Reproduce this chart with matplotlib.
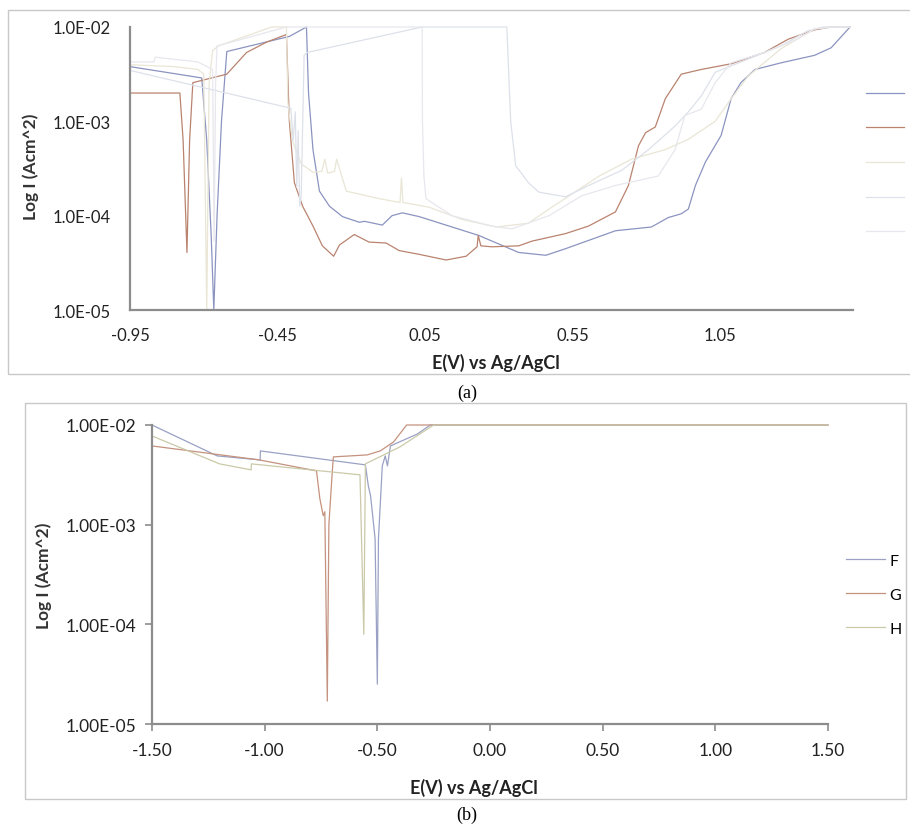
import matplotlib
matplotlib.use("Agg")
import matplotlib.pyplot as plt
import numpy as np
from matplotlib.patches import Rectangle
from matplotlib.ticker import FixedLocator, FuncFormatter, NullLocator

plt.rcParams['font.family'] = ['Lato', 'DejaVu Sans']

# ---- panel (a): potentials (V) and log10 of current density ----
a_E = [-0.95, -0.707, -0.69, -0.675, -0.666, -0.655, -0.64, -0.622, -0.41, -0.352, -0.345,
       -0.33, -0.308, -0.274, -0.23, -0.173, -0.155, -0.095, -0.062, -0.027, 0.03, 0.232,
       0.367, 0.459, 0.526, 0.695, 0.817, 0.874, 0.918, 0.942, 0.966, 1.0, 1.053, 1.087,
       1.12, 1.168, 1.256, 1.37, 1.426, 1.49]
a_log = [-2.42, -2.54, -3.2, -4.2, -5.0, -4.0, -3.0, -2.26, -2.1, -2.0, -2.7,
         -3.3, -3.74, -3.9, -4.01, -4.07, -4.06, -4.1, -4.0, -3.97, -4.01, -4.21,
         -4.39, -4.42, -4.35, -4.16, -4.12, -4.02, -3.98, -3.93, -3.68, -3.43, -3.15, -2.76,
         -2.59, -2.45, -2.38, -2.3, -2.22, -2.0]

b_E = [-0.95, -0.781, -0.77, -0.757, -0.748, -0.737, -0.622, -0.555, -0.487, -0.42, -0.41,
       -0.393, -0.365, -0.33, -0.298, -0.26, -0.24, -0.19, -0.14, -0.082, -0.038, 0.03,
       0.121, 0.189, 0.226, 0.23, 0.239, 0.276, 0.367, 0.412, 0.526, 0.604, 0.695, 0.739,
       0.773, 0.797, 0.83, 0.864, 0.918, 0.986, 1.087, 1.2, 1.28, 1.37, 1.426, 1.49]
b_log = [-2.70, -2.70, -3.2, -4.39, -3.2, -2.59, -2.50, -2.27, -2.16, -2.08, -3.0,
         -3.65, -3.9, -4.11, -4.32, -4.43, -4.31, -4.2, -4.28, -4.29, -4.37, -4.41,
         -4.47, -4.43, -4.33, -4.21, -4.32, -4.33, -4.32, -4.27, -4.19, -4.11, -3.96, -3.68,
         -3.26, -3.12, -3.06, -2.76, -2.5, -2.45, -2.39, -2.27, -2.13, -2.03, -2.0, -2.0]

c_E = [-0.95, -0.80, -0.72, -0.70, -0.69, -0.682, -0.67, -0.65, -0.47, -0.42, -0.415,
       -0.40, -0.37, -0.33, -0.30, -0.29, -0.28, -0.257, -0.25, -0.217, -0.105, -0.035,
       -0.03, -0.025, 0.063, 0.175, 0.29, 0.40, 0.47, 0.64, 0.75, 0.864, 0.942, 1.033,
       1.087, 1.145, 1.256, 1.37, 1.42, 1.49]
c_log = [-2.40, -2.42, -2.45, -2.5, -5.0, -2.6, -2.25, -2.2, -2.0, -2.0, -2.8,
         -3.2, -3.45, -3.54, -3.53, -3.4, -3.55, -3.53, -3.4, -3.74, -3.82, -3.86,
         -3.6, -3.86, -3.91, -4.04, -4.12, -4.08, -3.93, -3.58, -3.4, -3.3, -3.19, -3.0,
         -2.76, -2.52, -2.23, -2.02, -2.0, -2.0]

d_E = [-0.95, -0.42, -0.405, -0.397, -0.39, -0.385, -0.38, -0.375, -0.37, -0.36, -0.35,
       0.04, 0.327, 0.34, 0.357, 0.40, 0.435, 0.526, 0.604, 0.716, 0.807, 0.897, 0.942,
       0.986, 1.033, 1.145, 1.256, 1.347, 1.40, 1.49]
d_log = [-2.46, -2.85, -2.86, -3.2, -2.9, -3.7, -3.1, -3.9, -3.8, -2.3, -2.27,
         -2.0, -2.0, -3.0, -3.47, -3.65, -3.75, -3.8, -3.68, -3.52, -3.3, -3.05, -2.9,
         -2.73, -2.48, -2.34, -2.2, -2.04, -2.0, -2.0]

e_E = [-0.95, -0.868, -0.865, -0.72, -0.67, -0.665, -0.66, -0.655, -0.63, -0.42, 0.04,
       0.041, 0.046, 0.053, 0.141, 0.276, 0.344, 0.47, 0.58, 0.695, 0.84, 0.897, 0.93,
       0.986, 1.033, 1.087, 1.2, 1.31, 1.37, 1.44, 1.49]
e_log = [-2.37, -2.37, -2.32, -2.37, -2.45, -4.27, -2.6, -2.2, -2.18, -2.0, -2.0,
         -3.0, -3.58, -3.82, -4.0, -4.11, -4.14, -4.0, -3.79, -3.68, -3.58, -3.3, -2.94,
         -2.87, -2.59, -2.38, -2.27, -2.13, -2.02, -2.0, -2.0]

# ---- panel (b) ----
f_E = [-1.5, -1.211, -1.02, -1.019, -0.553, -0.54, -0.53, -0.51, -0.50, -0.495, -0.478,
       -0.465, -0.455, -0.442, -0.322, -0.265, 1.5]
f_log = [-2.0, -2.31, -2.35, -2.26, -2.40, -2.61, -2.71, -3.14, -4.6, -3.14, -2.41,
         -2.31, -2.41, -2.21, -2.09, -2.0, -2.0]

g_E = [-1.5, -1.025, -0.77, -0.755, -0.74, -0.733, -0.722, -0.715, -0.70, -0.695, -0.545,
       -0.487, -0.428, -0.37, 1.5]
g_log = [-2.21, -2.35, -2.46, -2.74, -2.91, -2.87, -4.77, -3.0, -2.47, -2.32, -2.30,
         -2.26, -2.17, -2.0, -2.0]

h_E = [-1.5, -1.2, -1.06, -1.059, -0.577, -0.56, -0.553, -0.4, -0.25, 1.5]
h_log = [-2.11, -2.39, -2.45, -2.39, -2.5, -4.1, -2.39, -2.22, -2.0, -2.0]

top_series = [("A", a_E, a_log, '#8b94c0'), ("B", b_E, b_log, '#b9836f'),
              ("C", c_E, c_log, '#e9e6d5'), ("D", d_E, d_log, '#dde1ea'),
              ("E", e_E, e_log, '#e7e7ee')]
bot_series = [("F", f_E, f_log, '#9aa1c4'), ("G", g_E, g_log, '#c4927e'),
              ("H", h_E, h_log, '#cac9a8')]

top_xticks = [-0.95, -0.45, 0.05, 0.55, 1.05]
bot_xticks = [-1.5, -1.0, -0.5, 0.0, 0.5, 1.0, 1.5]
yticks = [1e-5, 1e-4, 1e-3, 1e-2]

W, H = 910, 828
fig = plt.figure(figsize=(W / 100, H / 100), dpi=100)

# outer frames
fig.patches.append(Rectangle((8 / W, 1 - 375 / H), 910 / W, 364 / H, transform=fig.transFigure,
                             fill=False, edgecolor='#c8c8c8', lw=1))
fig.patches.append(Rectangle((25 / W, 1 - 800 / H), 881 / W, 396 / H, transform=fig.transFigure,
                             fill=False, edgecolor='#c8c8c8', lw=1))

ax1 = fig.add_axes([130 / W, 1 - 311 / H, 723 / W, 283 / H])
ax2 = fig.add_axes([152 / W, 1 - 725 / H, 676 / W, 299 / H])

for name, E, lg, col in top_series:
    ax1.plot(E, 10 ** np.array(lg), color=col, lw=0.9, label=name, clip_on=False)
for name, E, lg, col in bot_series:
    ax2.plot(E, 10 ** np.array(lg), color=col, lw=0.9, label=name, clip_on=False)

for ax in (ax1, ax2):
    ax.set_yscale('log')
    ax.set_ylim(1e-5, 1e-2)
    ax.yaxis.set_major_locator(FixedLocator(yticks))
    ax.yaxis.set_minor_locator(NullLocator())
    for s in ('top', 'right'):
        ax.spines[s].set_visible(False)
    for s in ('left', 'bottom'):
        ax.spines[s].set_color('#8c8c8c')
        ax.spines[s].set_linewidth(1.6)
    ax.tick_params(colors='#8c8c8c', labelcolor='#222222')
    ax.set_ylabel('Log I (Acm^2)', fontsize=12.5, fontweight='bold', color='#333333')
    ax.set_xlabel('E(V) vs Ag/AgCl', fontsize=13, fontweight='bold', color='#222222')

ax1.set_xlim(-0.95, 1.5)
ax1.xaxis.set_major_locator(FixedLocator(top_xticks))
ax1.xaxis.set_major_formatter(FuncFormatter(lambda v, p: f"{v:.2f}"))
ax1.yaxis.set_major_formatter(FuncFormatter(lambda v, p: f"{v:.1E}"))
ax1.tick_params(length=0, labelsize=12)
ax1.tick_params(axis='y', pad=14)
ax1.tick_params(axis='x', pad=12)
ax1.xaxis.set_label_coords(0.506, -0.15)
ax1.yaxis.set_label_coords(-0.126, 0.51)

ax2.set_xlim(-1.5, 1.5)
ax2.xaxis.set_major_locator(FixedLocator(bot_xticks))
ax2.xaxis.set_major_formatter(FuncFormatter(lambda v, p: f"{v:.2f}"))
ax2.yaxis.set_major_formatter(FuncFormatter(lambda v, p: f"{v:.2E}"))
ax2.tick_params(direction='out', length=5, width=1.2, labelsize=12.5)
ax2.tick_params(axis='y', pad=6)
ax2.tick_params(axis='x', pad=8)
ax2.xaxis.set_label_coords(0.476, -0.18)
ax2.yaxis.set_label_coords(-0.148, 0.50)

ax1.legend(loc='upper left', bbox_to_anchor=(860 / W, 1 - 82 / H), bbox_transform=fig.transFigure,
           frameon=False, fontsize=11, handlelength=2.5, labelspacing=1.35, borderaxespad=0,
           handletextpad=0.4)
ax2.legend(loc='upper left', bbox_to_anchor=(840 / W, 1 - 548 / H), bbox_transform=fig.transFigure,
           frameon=False, fontsize=11.5, handlelength=2.4, labelspacing=1.25, borderaxespad=0,
           handletextpad=0.3)

fig.text(467 / W, 1 - 393 / H, '(a)', family='Liberation Serif', fontsize=13, ha='center', va='center')
fig.text(467 / W, 1 - 815 / H, '(b)', family='Liberation Serif', fontsize=13, ha='center', va='center')

fig.savefig('out.png', dpi=100)
